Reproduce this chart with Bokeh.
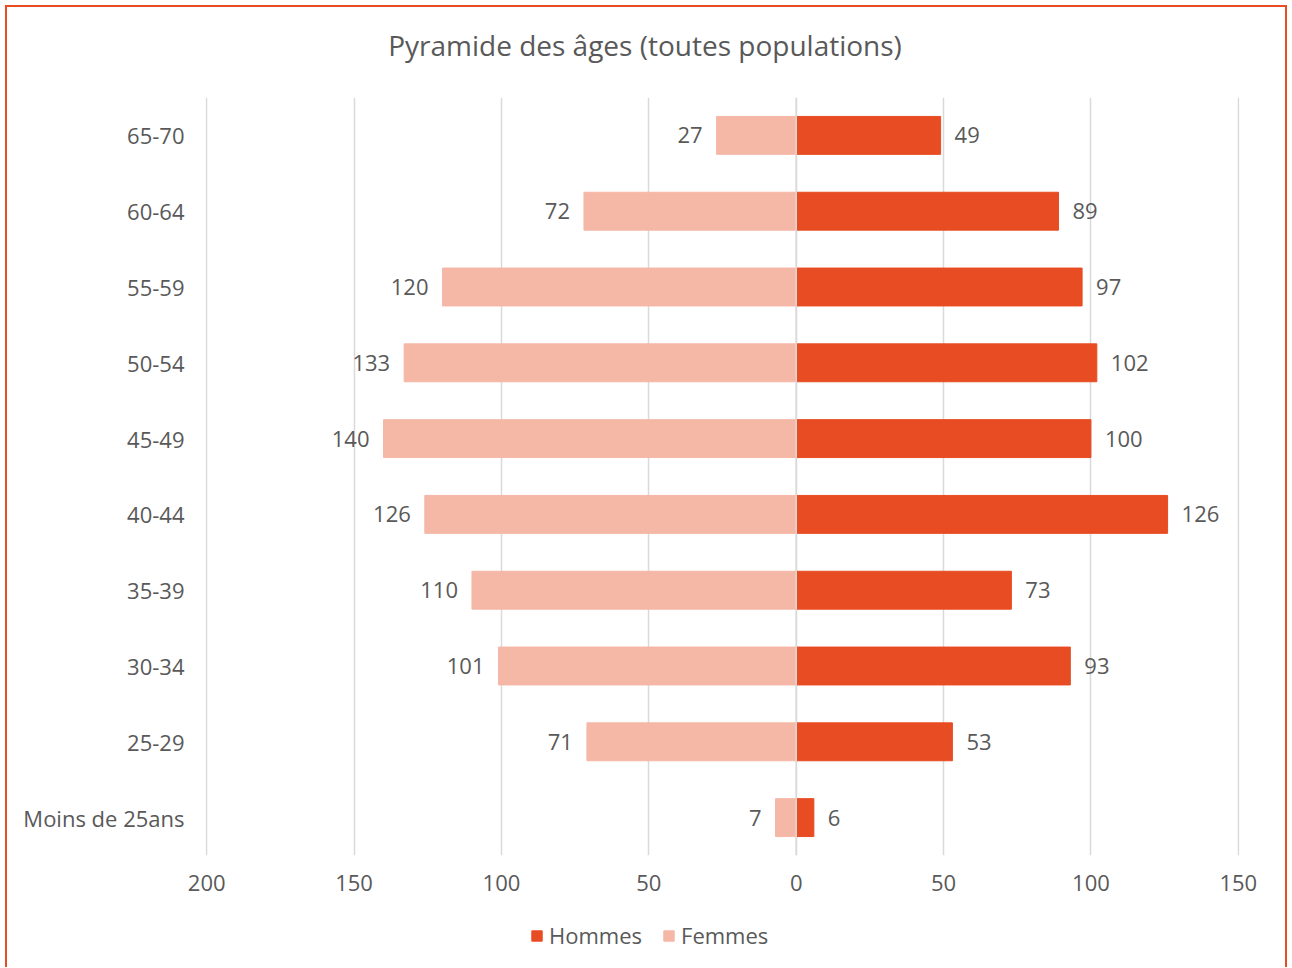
from bokeh.plotting import figure
from bokeh.models import (Range1d, FactorRange, FixedTicker, Legend, LegendItem,
                          ColumnDataSource, Span, Label)
from bokeh.layouts import column
from bokeh.core.properties import value
from bokeh.embed import file_html
from bokeh.resources import INLINE

categories = ["Moins de 25ans", "25-29", "30-34", "35-39", "40-44",
              "45-49", "50-54", "55-59", "60-64", "65-70"]
hommes = [6, 53, 93, 73, 126, 100, 102, 97, 89, 49]
femmes = [7, 71, 101, 110, 126, 140, 133, 120, 72, 27]
tick_values = [-200, -150, -100, -50, 0, 50, 100, 150]
tick_labels = ["200", "150", "100", "50", "0", "50", "100", "150"]
series_names = ["Hommes", "Femmes"]
title_text = "Pyramide des âges (toutes populations)"

RED = "#E84C22"
PINK = "#F5B7A6"
TXT = "#595959"
FONT = "Open Sans"
W = 1278

src = ColumnDataSource(dict(
    cat=categories,
    h=hommes,
    f=[-v for v in femmes],
    ht=[str(v) for v in hommes],
    ft=[str(v) for v in femmes],
))


def strip(height):
    s = figure(width=W, height=height, output_backend="svg", toolbar_location=None,
               x_range=Range1d(0, 1), y_range=FactorRange(factors=categories),
               x_axis_type=None, y_axis_type=None,
               min_border_left=0, min_border_right=0, min_border_top=0, min_border_bottom=0)
    s.outline_line_color = None
    s.grid.visible = False
    s.border_fill_color = "white"
    s.background_fill_color = "white"
    return s


# header with the title
head = strip(90)
head.add_layout(Label(x=439.5, y=53, x_units="screen", y_units="screen", text=title_text,
                      text_align="center", text_baseline="middle", text_font=FONT,
                      text_font_size="28px", text_color=TXT))

# main chart
p = figure(width=W, height=808, output_backend="svg", toolbar_location=None,
           x_range=Range1d(-200.4, 150.4), y_range=FactorRange(factors=categories),
           min_border_left=198, min_border_right=46, min_border_top=0, min_border_bottom=50)
p.outline_line_color = None
p.background_fill_color = "white"
p.border_fill_color = "white"

p.hbar(y="cat", left=0, right="h", height=0.5, color=RED, source=src)
p.hbar(y="cat", left="f", right=0, height=0.5, color=PINK, source=src)

p.add_layout(Span(location=0, dimension="height", line_color="#D9D9D9", line_width=1.5, level="overlay"))

p.text(x="h", y="cat", text="ht", source=src, x_offset=14, text_align="left",
       text_baseline="middle", text_font=value(FONT), text_font_size="22px", text_color=TXT)
p.text(x="f", y="cat", text="ft", source=src, x_offset=-14, text_align="right",
       text_baseline="middle", text_font=value(FONT), text_font_size="22px", text_color=TXT)

p.xaxis.ticker = FixedTicker(ticks=tick_values)
p.xaxis.major_label_overrides = {v: l for v, l in zip(tick_values, tick_labels)}
for ax in (p.xaxis[0], p.yaxis[0]):
    ax.axis_line_color = None
    ax.major_tick_line_color = None
    ax.minor_tick_line_color = None
    ax.major_tick_out = 0
    ax.major_tick_in = 0
    ax.major_label_text_font = FONT
    ax.major_label_text_font_size = "22px"
    ax.major_label_text_color = TXT
p.xaxis.major_label_standoff = 19
p.yaxis.major_label_standoff = 21

p.xgrid.ticker = FixedTicker(ticks=tick_values)
p.xgrid.grid_line_color = "#D9D9D9"
p.xgrid.grid_line_width = 1.5
p.ygrid.grid_line_color = None

# legend strip below the chart (swatches taken from zero-size bars)
lg = strip(62)
sw_h = lg.hbar(y="cat", left=0, right=0, height=0, color=RED, source=src)
sw_f = lg.hbar(y="cat", left=0, right=0, height=0, color=PINK, source=src)
legend = Legend(items=[LegendItem(label=series_names[0], renderers=[sw_h]),
                       LegendItem(label=series_names[1], renderers=[sw_f])],
                orientation="horizontal", location=(325, 17),
                glyph_width=13, glyph_height=13, label_standoff=6, spacing=20,
                padding=0, margin=0, border_line_color=None, background_fill_alpha=0,
                label_text_font=FONT, label_text_font_size="22px", label_text_color=TXT)
lg.add_layout(legend, "center")

layout = column(head, p, lg, spacing=0)
layout.styles = {"margin-left": "5px", "margin-top": "5px",
                 "border-left": "2px solid #E84C22", "border-top": "2px solid #E84C22",
                 "border-right": "2px solid #E84C22"}

open("out.html", "w").write(file_html(layout, INLINE))
